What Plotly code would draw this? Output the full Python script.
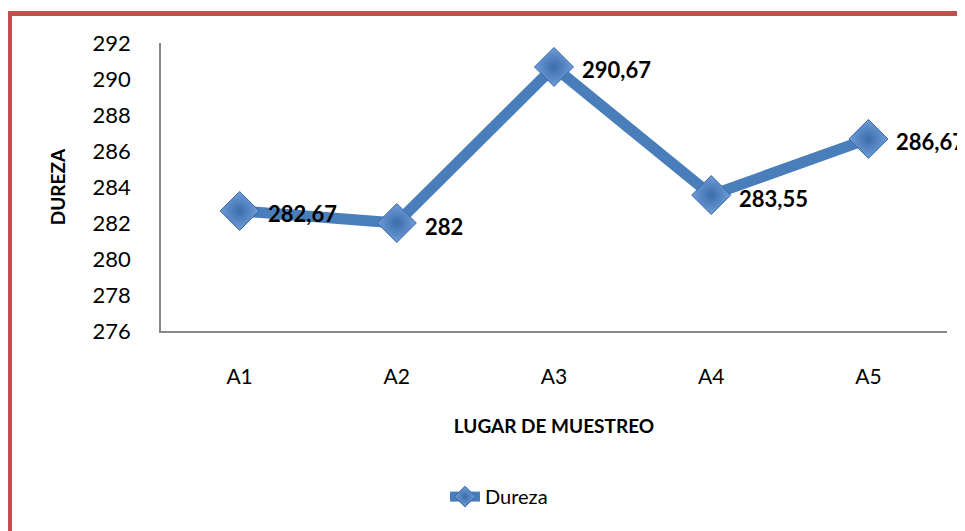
import plotly.graph_objects as go

categories = ["A1", "A2", "A3", "A4", "A5"]
dureza = [282.67, 282, 290.67, 283.55, 286.67]
labels = ["282,67", "282", "290,67", "283,55", "286,67"]
y_ticks = [276, 278, 280, 282, 284, 286, 288, 290, 292]

FONT = "Lato, 'Open Sans', sans-serif"

fig = go.Figure()
fig.add_trace(go.Scatter(
    x=categories, y=dureza, mode="lines+markers", name="Dureza",
    line=dict(color="#4a7ebb", width=11),
    marker=dict(symbol="diamond", size=30, color="#6f9ed8",
                gradient=dict(type="radial", color="#3b6cab"),
                line=dict(color="#3a67a3", width=1)),
    cliponaxis=False,
))

for c, v, t in zip(categories, dureza, labels):
    fig.add_annotation(x=c, y=v, text=t, showarrow=False, xanchor="left",
                       yanchor="middle", xshift=26, yshift=-3,
                       font=dict(family=FONT, size=22, color="black", weight="bold"))

fig.update_layout(
    width=957, height=523,
    margin=dict(l=153, r=18, t=35, b=200),
    paper_bgcolor="white", plot_bgcolor="white",
    font=dict(family=FONT, color="black"),
    showlegend=True,
    legend=dict(orientation="h", x=0.43, xanchor="center", y=-0.575, yanchor="middle",
                font=dict(family=FONT, size=20, color="black")),
    xaxis=dict(range=[-0.5, 4.5], showline=True, linecolor="#888888", linewidth=1.5,
               showgrid=False,
               tickfont=dict(family=FONT, size=21), ticks="", ticklabelstandoff=26,
               title=dict(text="LUGAR DE MUESTREO", standoff=33,
                          font=dict(family=FONT, size=19, weight="bold"))),
    yaxis=dict(range=[276, 292], tickvals=y_ticks, showline=True, linecolor="#888888",
               linewidth=1.5, showgrid=False, zeroline=False,
               tickfont=dict(family=FONT, size=22), ticks="", ticklabelstandoff=24,
               title=dict(text="DUREZA", standoff=22,
                          font=dict(family=FONT, size=19, weight="bold"))),
    shapes=[dict(type="rect", xref="paper", yref="paper",
                 x0=-0.1927, x1=1.2, y0=-1.0, y1=1.1025,
                 line=dict(color="#c0504d", width=5), layer="above")],
)

fig.write_html("out.html")
